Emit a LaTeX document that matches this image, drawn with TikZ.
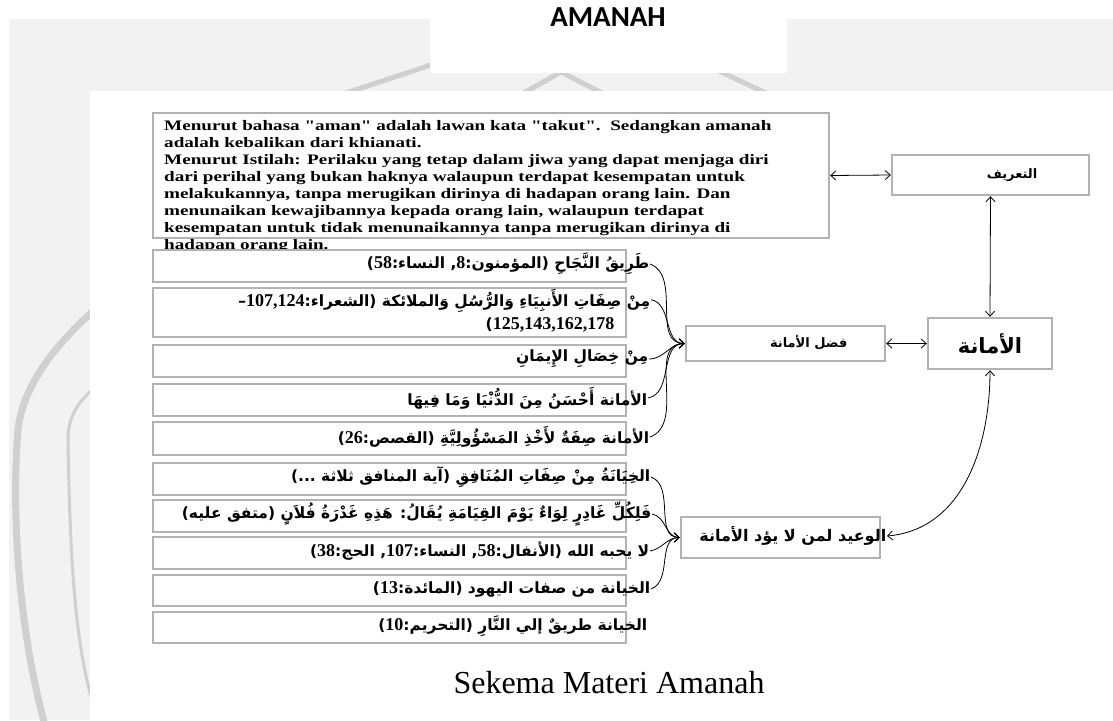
\documentclass[tikz,border=0pt]{standalone}
\usepackage{fontspec}
\setmainfont{Liberation Serif}
\newfontfamily\arabicfont[Script=Arabic]{DejaVu Sans}
\newfontfamily\titlefont{Carlito}
\newfontfamily\deffont{Liberation Serif}[FakeStretch=1.32]
\newfontfamily\numfont{Liberation Serif}
\TeXXeTstate=1
\usetikzlibrary{arrows.meta,positioning,calc}
\definecolor{boxgray}{RGB}{178,178,178}
\definecolor{bggray}{RGB}{242,242,242}
\definecolor{markgray}{RGB}{208,208,208}
\newcommand{\artext}[1]{\beginR #1\endR}
\newcommand{\nm}[1]{{\numfont\fontsize{18}{18}\selectfont\beginL #1\endL}}

\begin{document}
\begin{tikzpicture}[x=1pt, y=-1pt,
  box/.style={draw=boxgray, line width=2.4pt, fill=white, inner sep=0pt},
  lbl/.style={inner sep=0.5pt, font=\arabicfont\bfseries\fontsize{15.5}{23}\selectfont},
  deftext/.style={inner sep=0pt, align=left, font=\deffont\bfseries\fontsize{14.5}{17}\selectfont},
  wmark/.style={draw=markgray, line cap=round},
  link/.style={-{Straight Barb[length=5pt,width=9pt]}, line width=0.8pt},
  both/.style={{Straight Barb[length=5pt,width=9pt]}-{Straight Barb[length=5pt,width=9pt]}, line width=0.8pt}
]
\useasboundingbox (0,0) rectangle (1113,720);
% background and watermark
\fill[white] (0,0) rectangle (1113,720);
\fill[bggray] (9,19) rectangle (1113,720);
\draw[wmark, line width=7pt] (92,312) .. controls (50,350) and (22,390) .. (18,430) .. controls (12,500) and (16,620) .. (45,725);
\draw[wmark, line width=3pt] (92,390) .. controls (75,405) and (68,420) .. (68,440) .. controls (70,560) and (75,640) .. (92,700);
\draw[wmark, line width=5pt] (340,95) -- (440,62);
\draw[wmark, line width=5pt] (520,95) -- (561,72) -- (606,95);
\draw[wmark, line width=5pt] (700,62) -- (770,95);
\fill[white] (430,0) rectangle (787,73);
\fill[white] (90,91) rectangle (1113,720);

% title
\node[font=\titlefont\bfseries\fontsize{29}{32}\selectfont] (title) at (608,17.5) {AMANAH};

% definition
\node[box, minimum width=676pt, minimum height=125pt] (def) at (491,175.5) {};
\node[deftext, anchor=north west] (deft) at (164,120) {
  Menurut bahasa "aman" adalah lawan kata "takut".\ \ Sedangkan amanah\\
  adalah kebalikan dari khianati.\\
  Menurut Istilah: Perilaku yang tetap dalam jiwa yang dapat menjaga diri\\
  dari perihal yang bukan haknya walaupun terdapat kesempatan untuk\\
  melakukannya, tanpa merugikan dirinya di hadapan orang lain. Dan\\
  menunaikan kewajibannya kepada orang lain, walaupun terdapat\\
  kesempatan untuk tidak menunaikannya tanpa merugikan dirinya di\\
  hadapan orang lain.
};

% fadl items
\node[box, minimum width=473pt, minimum height=32pt] (f1) at (389.5,266) {};
\node[lbl, anchor=east] (f1t) at (650,264) {\artext{طَرِيقُ النَّجَاحِ (المؤمنون:\nm{8}, النساء:\nm{58})}};
\node[box, minimum width=473pt, minimum height=49pt] (f2) at (389.5,312.5) {};
\node[lbl, anchor=east, align=right] (f2t) at (651,311) {\artext{مِنْ صِفَاتِ الأَنبِيَاءِ وَالرُّسُلِ وَالملائكة (الشعراء:\nm{107,124}–}\\
  \artext{\hspace*{36pt}\nm{125,143,162,178})}};
\node[box, minimum width=473pt, minimum height=32pt] (f3) at (389.5,361) {};
\node[lbl, anchor=east] (f3t) at (649,359) {\artext{مِنْ خِصَالِ الإِيمَانِ}};
\node[box, minimum width=473pt, minimum height=32pt] (f4) at (389.5,400) {};
\node[lbl, anchor=east] (f4t) at (648,398) {\artext{الأمانة أَحْسَنُ مِنَ الدُّنْيَا وَمَا فِيهَا}};
\node[box, minimum width=473pt, minimum height=33pt] (f5) at (389.5,438.5) {};
\node[lbl, anchor=east] (f5t) at (650,437) {\artext{الأمانة صِفَةٌ لأَخْذِ المَسْؤُولِيَّةِ (القصص:\nm{26})}};

% waid items
\node[box, minimum width=473pt, minimum height=32pt] (w1) at (389.5,479) {};
\node[lbl, anchor=east] (w1t) at (651,477) {\artext{الخِيَانَةُ مِنْ صِفَاتِ المُنَافِقِ (آية المنافق ثلاثة ...)}};
\node[box, minimum width=473pt, minimum height=32pt] (w2) at (389.5,516) {};
\node[lbl, anchor=east] (w2t) at (652,514) {\artext{فَلِكُلِّ غَادِرٍ لِوَاءٌ يَوْمَ القِيَامَةِ يُقَالُ: هَذِهِ غَدْرَةُ فُلاَنٍ (متفق عليه)}};
\node[box, minimum width=473pt, minimum height=32pt] (w3) at (389.5,553) {};
\node[lbl, anchor=east] (w3t) at (650,551) {\artext{لا يحبه الله (الأنفال:\nm{58}, النساء:\nm{107}, الحج:\nm{38})}};
\node[box, minimum width=473pt, minimum height=31pt] (w4) at (389.5,590.5) {};
\node[lbl, anchor=east] (w4t) at (651,589) {\artext{الخيانة من صفات اليهود (المائدة:\nm{13})}};
\node[box, minimum width=473pt, minimum height=31pt] (w5) at (389.5,627.5) {};
\node[lbl, anchor=east] (w5t) at (648,626) {\artext{الخيانة طريقٌ إلي النَّارِ (التحريم:\nm{10})}};

% right column
\node[box, minimum width=197pt, minimum height=40pt] (tarif) at (990.5,175) {};
\node[lbl, anchor=east, font=\arabicfont\bfseries\fontsize{13}{15}\selectfont] (tarift) at (1038,175) {\artext{التعريف}};
\node[box, minimum width=124pt, minimum height=51pt, font=\arabicfont\bfseries\fontsize{21}{23}\selectfont] (amanah) at (990,343.5) {\artext{الأمانة}};
\node[box, minimum width=199pt, minimum height=35pt] (fadl) at (785.5,343.5) {};
\node[lbl, anchor=east, font=\arabicfont\bfseries\fontsize{13}{15}\selectfont] (fadlt) at (848,343) {\artext{فضل الأمانة}};
\node[box, minimum width=199pt, minimum height=41pt] (waid) at (780.5,537.5) {};
\node[lbl, anchor=east, font=\arabicfont\bfseries\fontsize{16}{18}\selectfont] (waidt) at (887,536) {\artext{الوعيد لمن لا يؤد الأمانة}};

% caption
\node[font=\fontsize{32}{36}\selectfont] (caption) at (609,683) {Sekema Materi Amanah};

% connectors
\draw[both] (def.east) -- (tarif.west);
\draw[both] (tarif.south) -- (amanah.north);
\draw[both] (fadl.east) -- (amanah.west);
\draw[both] (waidt.east) to[out=5,in=-90] (amanah.south);
\draw[link] (f1t.east) to[out=-20,in=180] (fadl.west);
\draw[link] ([yshift=-11pt]f2t.north east) to[out=-10,in=180] (fadl.west);
\draw[link] (f3t.east) to[out=0,in=180] (fadl.west);
\draw[link] (f4t.east) to[out=10,in=180] (fadl.west);
\draw[link] (f5t.east) to[out=20,in=180] (fadl.west);
\draw[link] (w1t.east) to[out=-20,in=180] (waid.west);
\draw[link] (w2t.east) to[out=-10,in=180] (waid.west);
\draw[link] (w3t.east) to[out=10,in=180] (waid.west);
\draw[link] (w4t.east) to[out=20,in=180] (waid.west);
\end{tikzpicture}
\end{document}
